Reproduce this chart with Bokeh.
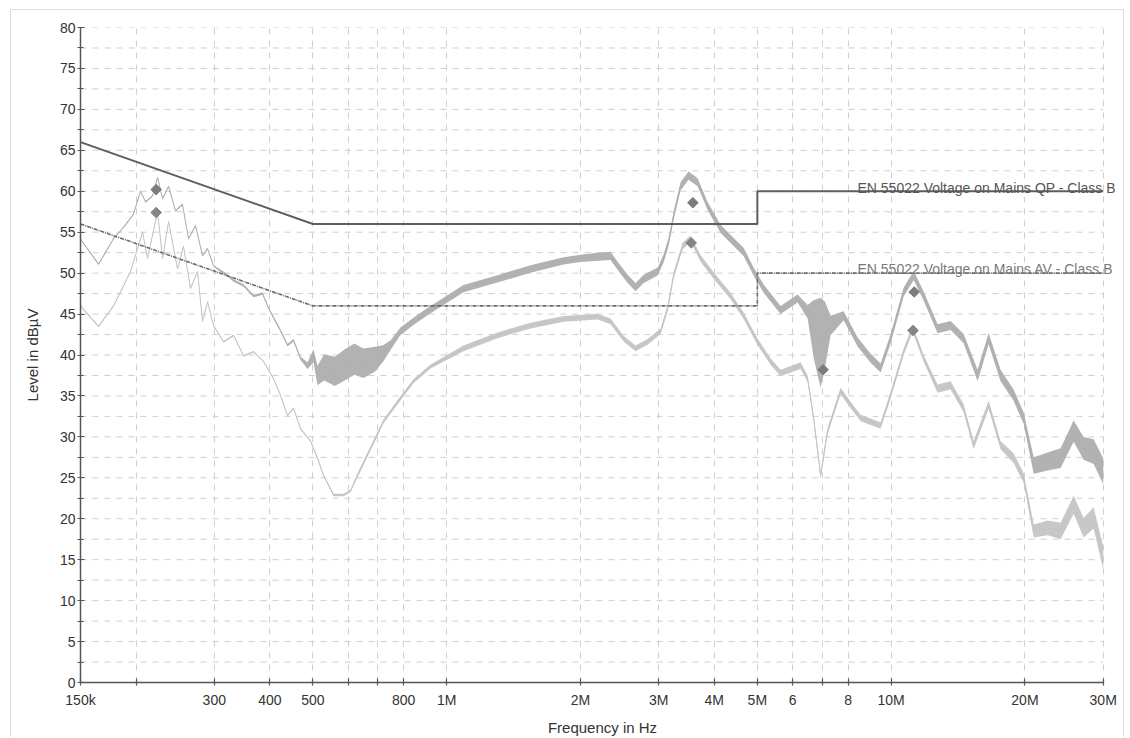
from bokeh.plotting import figure
from bokeh.models import Range1d, FixedTicker, Label, ColumnDataSource
from bokeh.embed import file_html
from bokeh.resources import INLINE

# ---- measured spectra (frequency in MHz, level in dBµV, half-width of the noise band) ----
pk_freq = [0.150, 0.1516, 0.1647, 0.178, 0.1875, 0.1974, 0.2047, 0.2101, 0.2178, 0.2236,
           0.2295, 0.2367, 0.2454, 0.2544, 0.2625, 0.2722, 0.2823, 0.2897, 0.2988, 0.3098,
           0.3213, 0.3315, 0.3491, 0.3676, 0.3852, 0.3953, 0.4056, 0.4227, 0.4384, 0.4523,
           0.4689, 0.4863, 0.5016, 0.5121, 0.53, 0.56, 0.59, 0.62, 0.65, 0.69,
           0.72, 0.7476, 0.787, 0.842, 0.905, 1.091, 1.301, 1.544, 1.832, 2.001,
           2.186, 2.337, 2.424, 2.553, 2.661, 2.775, 2.983, 3.077, 3.157, 3.240,
           3.359, 3.501, 3.669, 3.864, 4.134, 4.422, 4.656, 4.904, 5.165, 5.640,
           6.159, 6.488, 6.692, 6.939, 7.1, 7.308, 7.818, 8.406, 8.993, 9.470,
           9.974, 10.67, 11.24, 11.83, 12.72, 13.61, 14.56, 15.65, 16.57, 17.63,
           18.86, 19.86, 20.93, 22.50, 24.06, 25.74, 27.11, 28.55, 30.0]
pk_level = [54.2, 53.8, 51.1, 54.2, 55.6, 57.2, 60.0, 58.7, 59.4, 61.7,
            59.1, 60.6, 57.6, 58.4, 54.2, 55.8, 52.1, 53.0, 50.9, 50.3,
            49.7, 49.1, 48.5, 47.2, 47.5, 46.0, 44.8, 43.0, 41.2, 41.8,
            39.6, 38.7, 39.9, 37.5, 38.5, 38.0, 38.8, 39.5, 39.0, 39.5,
            40.2, 41.2, 42.9, 44.1, 45.3, 48.1, 49.3, 50.5, 51.5, 51.8,
            52.0, 52.1, 50.9, 49.3, 48.3, 49.3, 50.2, 51.8, 53.8, 57.0,
            60.6, 61.9, 61.1, 58.2, 55.4, 53.8, 52.6, 50.2, 48.1, 45.5,
            46.9, 45.3, 43.2, 41.5, 42.5, 43.6, 44.8, 41.6, 39.6, 38.4,
            42.0, 47.7, 49.7, 47.2, 43.2, 43.6, 42.0, 37.5, 42.0, 37.5,
            35.1, 32.3, 26.5, 27.0, 27.4, 30.7, 28.6, 28.2, 25.8]
pk_spread = [0.1, 0.1, 0.1, 0.1, 0.1, 0.1, 0.1, 0.1, 0.1, 0.1,
             0.1, 0.1, 0.1, 0.1, 0.1, 0.1, 0.1, 0.1, 0.1, 0.15,
             0.15, 0.15, 0.15, 0.15, 0.15, 0.15, 0.15, 0.15, 0.15, 0.15,
             0.2, 0.4, 0.8, 1.2, 1.6, 1.8, 1.9, 1.9, 1.8, 1.5,
             1.0, 0.6, 0.45, 0.45, 0.45, 0.45, 0.45, 0.45, 0.45, 0.45,
             0.5, 0.5, 0.5, 0.5, 0.5, 0.5, 0.5, 0.5, 0.5, 0.5,
             0.5, 0.5, 0.5, 0.5, 0.5, 0.5, 0.5, 0.5, 0.5, 0.5,
             0.5, 0.8, 3.5, 5.5, 4.0, 1.2, 0.55, 0.55, 0.55, 0.55,
             0.55, 0.55, 0.55, 0.55, 0.55, 0.55, 0.55, 0.7, 0.7, 0.7,
             0.7, 0.7, 1.0, 1.1, 1.2, 1.3, 1.4, 1.5, 1.6]

av_freq = [0.150, 0.1516, 0.1647, 0.178, 0.1944, 0.2069, 0.2123, 0.2236, 0.2295, 0.2367,
           0.2480, 0.2558, 0.2652, 0.2751, 0.2823, 0.2897, 0.2988, 0.3147, 0.3315, 0.3491,
           0.3676, 0.3872, 0.4078, 0.4227, 0.4384, 0.4523, 0.4689, 0.4938, 0.5121, 0.5283,
           0.5564, 0.5859, 0.6077, 0.630, 0.674, 0.721, 0.787, 0.842, 0.920, 1.091,
           1.301, 1.544, 1.832, 2.186, 2.337, 2.500, 2.661, 2.832, 3.030, 3.141,
           3.240, 3.394, 3.537, 3.726, 3.987, 4.353, 4.656, 5.007, 5.355, 5.640,
           6.255, 6.488, 6.692, 6.939, 7.194, 7.697, 8.106, 8.538, 9.470, 9.974,
           10.67, 11.18, 11.83, 12.72, 13.61, 14.56, 15.33, 16.57, 17.63, 18.86,
           19.86, 20.93, 22.50, 24.06, 25.74, 27.11, 28.55, 30.0]
av_level = [46.2, 45.7, 43.5, 46.0, 50.2, 55.0, 51.8, 57.5, 51.8, 56.3,
            50.5, 53.3, 48.1, 50.2, 44.1, 46.5, 43.6, 41.6, 42.4, 39.9,
            40.4, 39.2, 37.1, 35.1, 32.6, 33.5, 31.0, 29.5, 27.4, 25.3,
            22.9, 22.9, 23.4, 25.3, 28.6, 31.9, 34.7, 36.8, 38.6, 40.8,
            42.4, 43.6, 44.4, 44.7, 44.1, 42.0, 40.8, 41.6, 42.9, 45.7,
            49.7, 53.3, 54.2, 51.8, 49.7, 47.2, 44.8, 41.6, 39.2, 37.8,
            38.7, 37.1, 32.3, 25.3, 30.7, 35.6, 33.9, 32.3, 31.4, 35.1,
            40.4, 43.2, 39.6, 35.9, 36.3, 33.5, 29.0, 33.9, 29.0, 27.4,
            25.0, 18.5, 18.9, 18.5, 21.7, 18.9, 20.1, 15.2]
av_spread = [0.1, 0.1, 0.1, 0.1, 0.1, 0.1, 0.1, 0.1, 0.1, 0.1,
             0.1, 0.1, 0.1, 0.1, 0.1, 0.1, 0.1, 0.1, 0.1, 0.1,
             0.1, 0.1, 0.1, 0.1, 0.1, 0.1, 0.1, 0.1, 0.15, 0.15,
             0.15, 0.15, 0.15, 0.25, 0.25, 0.25, 0.25, 0.25, 0.25, 0.35,
             0.35, 0.35, 0.35, 0.35, 0.35, 0.35, 0.35, 0.35, 0.35, 0.4,
             0.4, 0.4, 0.4, 0.4, 0.4, 0.4, 0.4, 0.4, 0.4, 0.4,
             0.4, 0.4, 0.4, 0.4, 0.4, 0.4, 0.4, 0.4, 0.4, 0.4,
             0.4, 0.4, 0.4, 0.5, 0.5, 0.5, 0.5, 0.5, 0.5, 0.6,
             0.6, 0.8, 0.9, 1.0, 1.1, 1.2, 1.3, 1.4]

# ---- EN 55022 class B limits ----
qp_limit_freq = [0.15, 0.5, 5.0, 5.0, 30.0]
qp_limit_level = [66.0, 56.0, 56.0, 60.0, 60.0]
av_limit_freq = [0.15, 0.5, 5.0, 5.0, 30.0]
av_limit_level = [56.0, 46.0, 46.0, 50.0, 50.0]

# ---- final measurement points ----
final_qp_freq = [0.222, 3.58, 7.03, 11.27]
final_qp_level = [60.2, 58.6, 38.2, 47.7]
final_av_freq = [0.222, 3.55, 11.2]
final_av_level = [57.4, 53.7, 43.0]

# ---- axis ticks ----
x_ticks = [0.15, 0.2, 0.3, 0.4, 0.5, 0.6, 0.7, 0.8, 1, 2, 3, 4, 5, 6, 7, 8, 10, 20, 30]
x_tick_labels = ["150k", "", "300", "400", "500", "", "", "800", "1M", "2M", "3M", "4M",
                 "5M", "6", "", "8", "10M", "20M", "30M"]
y_ticks = list(range(0, 81, 5))
y_minor_ticks = [2.5 + 5 * i for i in range(16)]

MHZ = 1e6
FONT = "Liberation Sans"
F_START, F_STOP = 0.15 * MHZ, 30 * MHZ
GRID = "#cfcfcf"


def band_source(freq, level, spread):
    return ColumnDataSource(dict(
        x=[f * MHZ for f in freq],
        y=level,
        lo=[v - s for v, s in zip(level, spread)],
        hi=[v + s for v, s in zip(level, spread)],
    ))


# the frame runs a little past 30 MHz so the limit captions have room on the right
p = figure(width=1114, height=728, x_axis_type="log",
           x_range=Range1d(F_START, 33.5e6), y_range=Range1d(0, 80),
           output_backend="svg", toolbar_location=None,
           min_border_left=69, min_border_right=1, min_border_top=17, min_border_bottom=54,
           background_fill_color="white", border_fill_color="white")
p.margin = (9, 0, 0, 10)
p.styles = {"border-top": "1px solid #dedede", "border-left": "1px solid #dedede",
            "border-right": "1px solid #dedede"}
p.outline_line_color = None

# axes
xt = FixedTicker(ticks=[t * MHZ for t in x_ticks])
p.xaxis.ticker = xt
p.xgrid.ticker = xt
p.xaxis.bounds = (F_START, F_STOP)
p.xaxis.major_label_overrides = {t * MHZ: lab for t, lab in zip(x_ticks, x_tick_labels)}
p.xaxis.minor_tick_line_color = None

yt = FixedTicker(ticks=y_ticks, minor_ticks=y_minor_ticks)
p.yaxis.ticker = yt
p.ygrid.visible = False

for ax in (p.xaxis[0], p.yaxis[0]):
    ax.axis_line_color = "#555555"
    ax.axis_line_width = 1.5
    ax.major_tick_line_color = "#555555"
    ax.major_tick_line_width = 1.2
    ax.major_tick_in = 4
    ax.major_tick_out = 3
    ax.major_label_text_font = FONT
    ax.major_label_text_font_size = "14px"
    ax.major_label_text_color = "#333333"
    ax.axis_label_text_font = FONT
    ax.axis_label_text_font_size = "15px"
    ax.axis_label_text_font_style = "normal"
    ax.axis_label_text_color = "#333333"

p.yaxis.minor_tick_line_color = "#555555"
p.yaxis.minor_tick_line_width = 1.2
p.yaxis.minor_tick_in = 3
p.yaxis.minor_tick_out = 3
p.yaxis.major_label_standoff = 2
p.yaxis.axis_label = "Level in dBµV"
p.yaxis.axis_label_standoff = 16
p.xaxis.major_label_standoff = 6
p.xaxis.axis_label = "Frequency in Hz"
p.xaxis.axis_label_standoff = 8

p.xgrid.grid_line_color = GRID
p.xgrid.grid_line_dash = "6 6"
p.xgrid.grid_line_width = 1

# horizontal grid, every 2.5 dB, stopping at 30 MHz
grid_levels = sorted(y_ticks[1:] + y_minor_ticks)
p.segment(x0=[F_START] * len(grid_levels), y0=grid_levels,
          x1=[F_STOP] * len(grid_levels), y1=grid_levels,
          line_color=GRID, line_dash="6 6", line_width=1)

# average trace
av_src = band_source(av_freq, av_level, av_spread)
p.varea(x="x", y1="lo", y2="hi", source=av_src, fill_color="#c8c8c8")
p.line(x="x", y="y", source=av_src, line_color="#c4c4c4", line_width=1)

# peak trace
pk_src = band_source(pk_freq, pk_level, pk_spread)
p.varea(x="x", y1="lo", y2="hi", source=pk_src, fill_color="#b2b2b2")
p.line(x="x", y="y", source=pk_src, line_color="#b0b0b0", line_width=1)

# limit lines
p.line([f * MHZ for f in qp_limit_freq], qp_limit_level, line_color="#5e5e5e", line_width=2)
p.line([f * MHZ for f in av_limit_freq], av_limit_level, line_color="#6a6a6a", line_width=1.6,
       line_dash="4 1 1 1")

# final measurement markers
p.scatter([f * MHZ for f in final_qp_freq], final_qp_level, marker="square", angle=0.785398,
          size=7.5, fill_color="#7c7c7c", line_color="#7c7c7c")
p.scatter([f * MHZ for f in final_av_freq], final_av_level, marker="square", angle=0.785398,
          size=7.5, fill_color="#858585", line_color="#858585")

# limit captions
p.add_layout(Label(x=8.4 * MHZ, y=60.45, text="EN 55022 Voltage on Mains QP - Class B",
                   text_font=FONT, text_font_size="14px", text_color="#555555",
                   text_baseline="alphabetic"))
p.add_layout(Label(x=8.4 * MHZ, y=50.45, text="EN 55022 Voltage on Mains AV - Class B",
                   text_font=FONT, text_font_size="14px", text_color="#7a7a7a",
                   text_baseline="alphabetic"))

open("out.html", "w").write(file_html(p, INLINE))
